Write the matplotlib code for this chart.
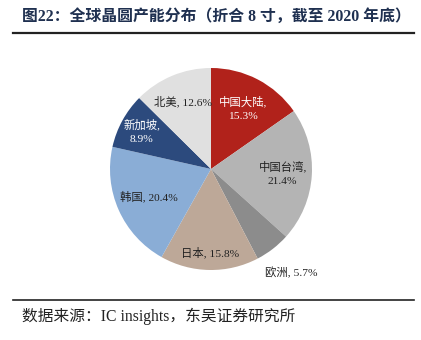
import matplotlib
matplotlib.use("Agg")
import matplotlib.pyplot as plt
import numpy as np
from matplotlib.lines import Line2D

categories = ["中国大陆", "中国台湾", "欧洲", "日本", "韩国", "新加坡", "北美"]
values = [15.3, 21.4, 5.7, 15.8, 20.4, 8.9, 12.6]
colors = ["#B1221B", "#B4B4B4", "#8C8C8C", "#BDA898", "#8AADD6", "#2C4A7D", "#E0E0E0"]
text_colors = ["white", "#222222", "#222222", "#222222", "#222222", "white", "#222222"]
label_lines = [True, True, False, False, False, True, False]
label_r = [0.68, 0.71, 1.30, 0.83, 0.67, 0.78, 0.72]

FAM = ["Liberation Serif", "Noto Sans CJK SC"]

fig = plt.figure(figsize=(4.21, 3.40), dpi=100)
W, H = 421, 340
cx, cy, R = 211, 169, 101
ax = fig.add_axes([(cx - R) / W, (H - cy - R) / H, 2 * R / W, 2 * R / H])
wedges, _ = ax.pie(values, colors=colors, startangle=90, counterclock=False,
                   radius=1.0, wedgeprops=dict(linewidth=0))
ax.set_xlim(-1, 1)
ax.set_ylim(-1, 1)
ax.set_aspect("equal")
ax.axis("off")

for w, cat, v, tc, two, r in zip(wedges, categories, values, text_colors, label_lines, label_r):
    ang = np.deg2rad((w.theta1 + w.theta2) / 2)
    x, y = r * np.cos(ang), r * np.sin(ang)
    txt = f"{cat},\n{v:.1f}%" if two else f"{cat}, {v:.1f}%"
    ax.text(x, y, txt, ha="center", va="center", color=tc, fontsize=8.2,
            family=FAM, linespacing=1.75, clip_on=False)

fig.text(22 / W, 1 - 17 / H, "图22：全球晶圆产能分布（折合 8 寸，截至 2020 年底）",
         ha="left", va="center", fontsize=11.4, fontweight="bold", color="#1F3050", family=FAM)
fig.add_artist(Line2D([13 / W, 414 / W], [1 - 33 / H, 1 - 33 / H], color="#222222", lw=1.6))
fig.add_artist(Line2D([13 / W, 414 / W], [1 - 300 / H, 1 - 300 / H], color="#222222", lw=1.2))
fig.text(22 / W, 1 - 316 / H, "数据来源：IC insights，东吴证券研究所",
         ha="left", va="center", fontsize=11.3, color="#222222", family=FAM)

fig.savefig("out.png", dpi=100)
